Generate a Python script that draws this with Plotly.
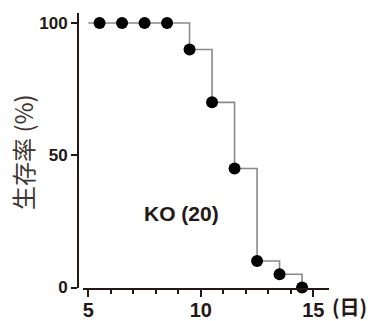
import plotly.graph_objects as go

days = [5.5, 6.5, 7.5, 8.5, 9.5, 10.5, 11.5, 12.5, 13.5, 14.5]
survival = [100, 100, 100, 100, 90, 70, 45, 10, 5, 0]
start_day = 5
start_survival = 100
group_label = "KO (20)"
x_ticks = [5, 10, 15]
y_ticks = [0, 50, 100]

AX = "#231815"
OFF = 8  # default page body margin
W, H = 377 - OFF, 321 - OFF
L, R, T, B = 78 - OFF, 48, 13 - OFF, 33
pw = W - L - R
ph = H - T - B

fig = go.Figure()
fig.add_trace(go.Scatter(
    x=[start_day] + days, y=[start_survival] + survival,
    mode="lines", line=dict(shape="hv", color="#8a8a8a", width=1.6),
    hoverinfo="skip", showlegend=False))
fig.add_trace(go.Scatter(
    x=days, y=survival, mode="markers",
    marker=dict(color="black", size=12), showlegend=False, cliponaxis=False))

fig.add_annotation(x=9.12, y=28, xref="x", yref="y", text="<b>" + group_label + "</b>",
                   showarrow=False, font=dict(family="Liberation Sans, Arial", size=21, color="#231815"))
fig.add_annotation(x=(23 - 78) / pw, y=(ph - (152 - 13)) / ph, xref="paper", yref="paper",
                   xanchor="center", yanchor="middle", borderpad=0,
                   text="生存率 (%)", textangle=-90, showarrow=False,
                   font=dict(family="Noto Sans CJK JP", size=24, color="#3d3532"))
fig.add_annotation(x=1, xshift=2, y=(288 - 306) / ph, xref="paper", yref="paper",
                   text="<b>(日)</b>", xanchor="left", yanchor="middle", showarrow=False,
                   borderpad=0,
                   font=dict(family="Noto Sans CJK JP", size=20, color="#231815"))

fig.update_layout(
    width=W, height=H, margin=dict(l=L, r=R, t=T, b=B, autoexpand=False),
    plot_bgcolor="white", paper_bgcolor="white",
    xaxis=dict(range=[4.764, 15.697], domain=[5 / pw, 1], showgrid=False, zeroline=False,
               automargin=False, ticklabelstandoff=-4,
               showline=True, linecolor=AX, linewidth=2,
               tickmode="array", tickvals=x_ticks, ticks="outside", ticklen=7, tickwidth=2,
               tickcolor=AX,
               minor=dict(dtick=1, tick0=5, ticks="outside", ticklen=4, tickwidth=2, tickcolor=AX),
               tickfont=dict(family="Liberation Sans, Arial", size=20, color=AX, weight="bold")),
    yaxis=dict(range=[-0.19, 103.78], anchor="free", position=0, showgrid=False, zeroline=False,
               automargin=False,
               showline=True, linecolor=AX, linewidth=2,
               tickmode="array", tickvals=y_ticks, ticks="outside", ticklen=6, tickwidth=2,
               tickcolor=AX,
               tickfont=dict(family="Liberation Sans, Arial", size=17, color=AX, weight="bold")),
)
fig.write_html("out.html")
